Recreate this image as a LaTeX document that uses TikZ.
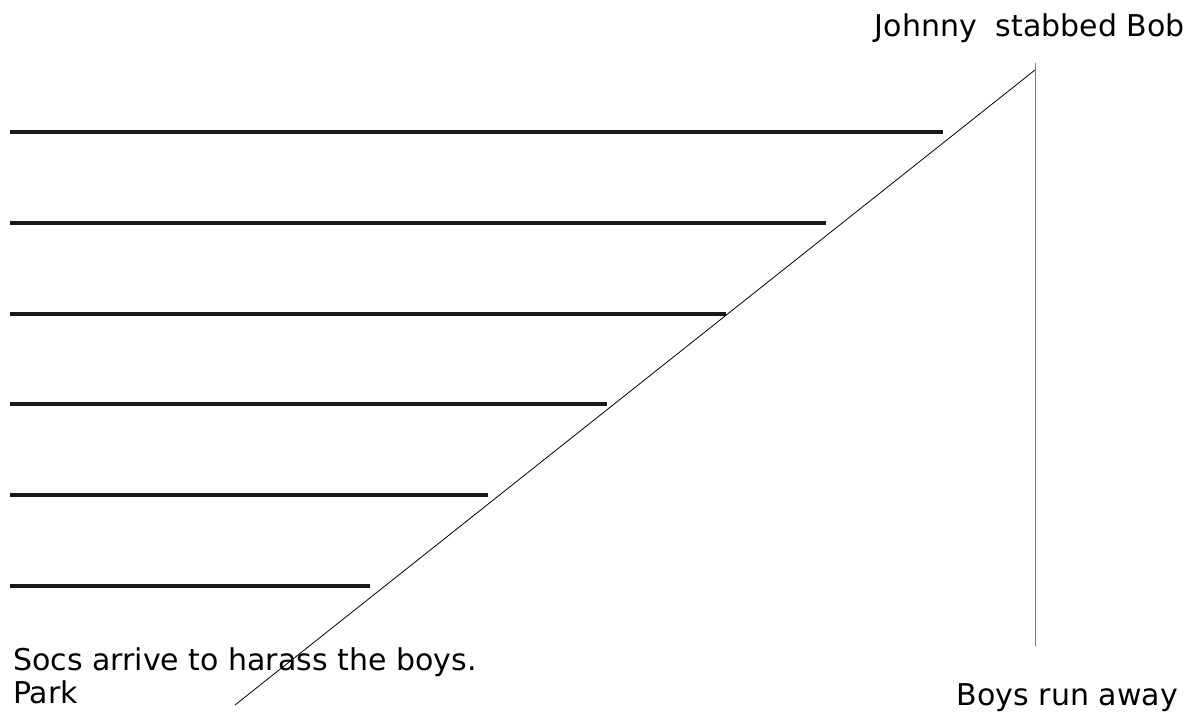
\documentclass[tikz,border=0pt]{standalone}
\usepackage{fontspec}
\setmainfont{DejaVu Sans}
\usetikzlibrary{positioning}
\tikzset{
  every picture/.style={line cap=butt, line join=round},
  blank/.style={line width=3.2pt, black!90},
  plotline/.style={line width=0.8pt, black},
  axis/.style={line width=0.5pt, gray},
  lbl/.style={inner sep=0pt, font=\fontsize{30}{34}\selectfont},
}
\begin{document}
\begin{tikzpicture}[x=1pt, y=-1pt]
  \useasboundingbox (0,0) rectangle (1195,727);
  % ---------------- writing lines, shortening towards the bottom
  \foreach \yy/\xend in {132/943, 223/826, 314/726, 404/607, 495/488, 586/370}
    \draw[blank] (10,\yy) -- (\xend,\yy);
  % ---------------- rising action and climax
  \coordinate (start) at (235,705);
  \coordinate (peak) at (1035,70);
  \draw[plotline] (start) -- (peak);
  \draw[axis] (1035,63) -- (1035,646);
  % ---------------- labels
  \node[lbl, anchor=base east] (climax) at (1185,37) {Johnny\ \ stabbed Bob};
  \node[lbl, anchor=base west] (socs) at (13,670) {Socs arrive to harass the boys.};
  \node[lbl, anchor=base west] (park) at (13,703) {Park};
  \node[lbl, anchor=base east] (runaway) at (1178,705) {Boys run away};
\end{tikzpicture}
\end{document}
